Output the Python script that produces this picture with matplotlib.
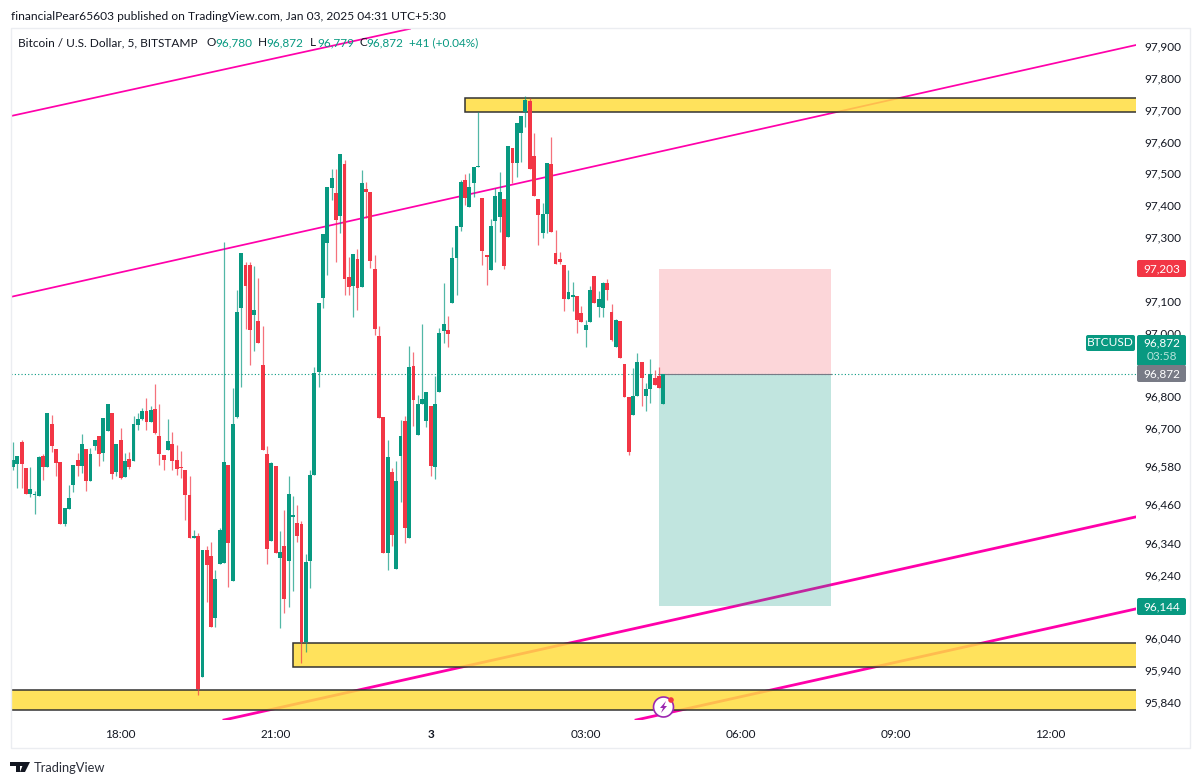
import math

import matplotlib

matplotlib.use("Agg")
import matplotlib.pyplot as plt
from matplotlib.collections import LineCollection
from matplotlib.patches import FancyBboxPatch, Polygon, Rectangle
from matplotlib.transforms import IdentityTransform

WIDTH = 1200
HEIGHT = 784

opens = [
    96580, 96590, 96658, 96577, 96497, 96492, 96491, 96616, 96580, 96717,
    96637, 96596, 96402, 96449, 96523, 96602, 96585, 96637, 96538, 96648,
    96679, 96624, 96693, 96750, 96564, 96664, 96550, 96606, 96598, 96711,
    96731, 96758, 96721, 96763, 96677, 96619, 96635, 96654, 96602, 96581,
    96570, 96494, 96357, 96363, 95920, 96319, 96302, 96105, 96275, 96278,
    96587, 96222, 96738, 97081, 97215, 97215, 97059, 97038, 96900, 96622,
    96349, 96585, 96294, 96334, 96286, 96424, 96405, 96403, 96030, 96284,
    96555, 96878, 97110, 97283, 97458, 97440, 97370, 97532, 97177, 97149,
    97233, 97147, 97453, 97445, 97202, 96992, 96738, 96309, 96565, 96260,
    96614, 96725, 96358, 96898, 96681, 96777, 96726, 96771, 96581, 96816,
    97008, 97011, 97097, 97236, 97334, 97482, 97396, 97474, 97522, 97427,
    97247, 97198, 97354, 97367, 97422, 97302, 97582, 97535, 97629, 97697,
    97730, 97558, 97422, 97317, 97376, 97533, 97252, 97233, 97215, 97109,
    97116, 97118, 97064, 97011, 97037, 97182, 97082, 97081, 97158, 97069,
    96959, 97039, 96903, 96802, 96744, 96804, 96910, 96805, 96826, 96859,
    96865, 96780,
]
highs = [
    96658, 96614, 96664, 96577, 96581, 96504, 96616, 96623, 96750, 96745,
    96637, 96596, 96452, 96525, 96588, 96625, 96685, 96637, 96640, 96665,
    96679, 96733, 96780, 96750, 96652, 96703, 96625, 96627, 96740, 96750,
    96766, 96797, 96773, 96842, 96780, 96619, 96731, 96690, 96650, 96631,
    96570, 96551, 96384, 96373, 96319, 96331, 96344, 96256, 96389, 97288,
    96587, 96829, 97135, 97252, 97226, 97223, 97212, 97173, 97022, 96648,
    96595, 96585, 96379, 96445, 96552, 96491, 96460, 96410, 96306, 96572,
    96896, 97097, 97312, 97459, 97516, 97516, 97564, 97545, 97239, 97249,
    97265, 97514, 97477, 97445, 97247, 97022, 96738, 96665, 96578, 96601,
    96727, 96740, 96962, 96943, 96808, 97029, 96817, 96771, 96868, 97016,
    97160, 97056, 97273, 97336, 97482, 97501, 97503, 97522, 97697, 97427,
    97247, 97359, 97456, 97506, 97422, 97589, 97582, 97662, 97683, 97746,
    97739, 97629, 97422, 97411, 97535, 97616, 97325, 97257, 97215, 97198,
    97161, 97118, 97087, 97043, 97149, 97182, 97134, 97163, 97170, 97093,
    97045, 97039, 96903, 96802, 96891, 96938, 96910, 96846, 96919, 96885,
    96896, 96872,
]
lows = [
    96570, 96515, 96515, 96497, 96486, 96434, 96489, 96539, 96580, 96627,
    96551, 96402, 96394, 96449, 96501, 96553, 96562, 96504, 96538, 96633,
    96583, 96598, 96693, 96543, 96551, 96543, 96550, 96574, 96598, 96696,
    96729, 96696, 96721, 96685, 96588, 96570, 96635, 96570, 96557, 96545,
    96413, 96358, 96357, 95866, 95920, 96156, 96077, 96078, 96275, 96278,
    96204, 96222, 96735, 96831, 97013, 96901, 96946, 96969, 96633, 96276,
    96349, 96309, 96075, 96122, 96140, 96190, 96345, 95965, 95999, 96201,
    96555, 96833, 97079, 97184, 97420, 97226, 97315, 97121, 97121, 97053,
    97074, 97147, 97362, 97207, 96995, 96735, 96309, 96258, 96332, 96260,
    96470, 96342, 96358, 96709, 96681, 96777, 96705, 96552, 96543, 96816,
    96969, 96957, 97097, 97121, 97323, 97404, 97396, 97430, 97522, 97215,
    97152, 97198, 97226, 97318, 97202, 97302, 97472, 97490, 97537, 97650,
    97517, 97432, 97278, 97299, 97315, 97320, 97218, 97218, 97072, 97109,
    97072, 97000, 97037, 96957, 97037, 97097, 97053, 97051, 97105, 96975,
    96959, 96922, 96802, 96618, 96744, 96804, 96772, 96755, 96781, 96838,
    96830, 96779,
]
closes = [
    96604, 96614, 96590, 96497, 96513, 96497, 96612, 96580, 96750, 96646,
    96593, 96402, 96452, 96483, 96588, 96583, 96652, 96538, 96623, 96665,
    96623, 96733, 96780, 96560, 96652, 96546, 96601, 96580, 96717, 96731,
    96758, 96721, 96761, 96687, 96623, 96604, 96662, 96600, 96574, 96579,
    96492, 96358, 96365, 95884, 96319, 96272, 96077, 96229, 96384, 96596,
    96341, 96715, 97067, 97252, 97150, 97011, 97074, 96969, 96633, 96323,
    96593, 96309, 96315, 96166, 96496, 96431, 96363, 96030, 96281, 96554,
    96875, 97097, 97312, 97459, 97488, 97357, 97564, 97170, 97147, 97249,
    97144, 97472, 97445, 97228, 97013, 96735, 96309, 96611, 96366, 96538,
    96679, 96389, 96894, 96790, 96777, 96794, 96817, 96585, 96780, 97001,
    97030, 96998, 97236, 97336, 97477, 97427, 97459, 97522, 97526, 97260,
    97241, 97339, 97432, 97445, 97212, 97589, 97535, 97662, 97683, 97734,
    97517, 97432, 97372, 97374, 97535, 97320, 97218, 97226, 97107, 97129,
    97121, 97043, 97037, 97027, 97135, 97097, 97109, 97160, 97137, 96980,
    97043, 96922, 96802, 96629, 96804, 96910, 96861, 96825, 96873, 96838,
    96830, 96872,
]

price_ticks = [97900, 97800, 97700, 97600, 97500, 97400, 97300, 97100, 97000,
               96800, 96700, 96580, 96460, 96340, 96240, 96040, 95940, 95840]
time_ticks = [25, 61, 97, 133, 169, 205, 241]
time_labels = ["18:00", "21:00", "3", "03:00", "06:00", "09:00", "12:00"]

# trend lines as (bar, price) pairs
thin_lines = [((-0.46, 97683), (92.2, 97957)), ((-0.46, 97115), (260.8, 97906))]
thick_lines = [((49, 95786), (260.8, 96424)), ((144.7, 95786), (260.8, 96135))]

# zones as (first bar, price low, price high)
zones = [(105, 97696, 97740), (65, 95953, 96028), (-0.46, 95818, 95881)]

entry_price = 96872
stop_price = 97203
target_price = 96144
position_start = 150
position_end = 190

GREEN = "#089981"
RED = "#F23645"
GREY = "#787B86"
TEXT = "#131722"
FONT = "Lato"


def fx(px):
    return px / WIDTH


def fy(px):
    return 1 - px / HEIGHT


def px_box(fig, x0, y0, x1, y1, color, zorder=2):
    fig.add_artist(FancyBboxPatch((x0, HEIGHT - y1), x1 - x0, y1 - y0,
                                  boxstyle="round,pad=0,rounding_size=2",
                                  transform=IdentityTransform(), facecolor=color,
                                  edgecolor="none", zorder=zorder))


def px_poly(fig, points, color, edge="none", linewidth=0, zorder=5):
    fig.add_artist(Polygon([(fx(x), fy(y)) for x, y in points], closed=True,
                           transform=fig.transFigure, facecolor=color,
                           edgecolor=edge, linewidth=linewidth, zorder=zorder))


def px_text(fig, x, y, s, color=TEXT, size=8.5, ha="left", **kwargs):
    fig.text(fx(x), fy(y), s, color=color, fontsize=size, ha=ha, va="center",
             family=FONT, zorder=4, **kwargs)


def ring(cx, cy, r, n=40):
    return [(cx + r * math.cos(2 * math.pi * k / n), cy + r * math.sin(2 * math.pi * k / n)) for k in range(n)]


def draw_candles(ax):
    idx = list(range(len(closes)))
    colors = [GREEN if c >= o else RED for o, c in zip(opens, closes)]
    segs = [[(i, lo), (i, hi)] for i, lo, hi in zip(idx, lows, highs)]
    ax.add_collection(LineCollection(segs, colors=colors, linewidths=0.9, alpha=0.7, zorder=5))
    bottoms = [min(o, c) for o, c in zip(opens, closes)]
    heights = [abs(c - o) for o, c in zip(opens, closes)]
    ax.bar(idx, heights, bottom=bottoms, width=0.9, color=colors, linewidth=0, zorder=6)


def draw_drawings(ax):
    for a, b in thin_lines:
        ax.plot([a[0], b[0]], [a[1], b[1]], color="#FF00AA", linewidth=1.25, zorder=2)
    for a, b in thick_lines:
        ax.plot([a[0], b[0]], [a[1], b[1]], color="#FF00AA", linewidth=2.0, zorder=2)

    right = ax.get_xlim()[1]
    for start, low, high in zones:
        ax.add_patch(Rectangle((start, low), right + 5 - start, high - low,
                               facecolor=(1.0, 0.867, 0.247, 0.85), edgecolor="#333333",
                               linewidth=1.1, zorder=3))

    span = position_end - position_start
    ax.add_patch(Rectangle((position_start, entry_price), span, stop_price - entry_price,
                           facecolor=RED, alpha=0.2, edgecolor="none", zorder=3))
    ax.add_patch(Rectangle((position_start, target_price), span, entry_price - target_price,
                           facecolor=GREEN, alpha=0.25, edgecolor="none", zorder=3))
    ax.plot([position_start, position_end], [entry_price, entry_price], color=GREY,
            linewidth=0.8, zorder=4)
    ax.axhline(entry_price, color=GREEN, linestyle=(0, (1, 2)), linewidth=0.8, zorder=1)


def draw_overlay(fig):
    # outer frame of the chart
    fig.add_artist(Rectangle((fx(10.5), fy(748)), fx(1179.5), 720.5 / HEIGHT,
                             transform=fig.transFigure, facecolor="none",
                             edgecolor="#EBEDF1", linewidth=1, zorder=1))

    px_text(fig, 11, 16, "financialPear65603 published on TradingView.com, Jan 03, 2025 04:31 UTC+5:30",
            size=8.66)
    px_text(fig, 18, 43, "Bitcoin / U.S. Dollar, 5, BITSTAMP", size=8.6)
    for x, s, color in [(207, "O", TEXT), (215, "96,780", GREEN), (258, "H", TEXT), (266, "96,872", GREEN),
                        (310, "L", TEXT), (317, "96,779", GREEN), (359, "C", TEXT), (366, "96,872", GREEN),
                        (409, "+41 (+0.04%)", GREEN)]:
        px_text(fig, x, 43, s, color=color)

    # price badges
    px_box(fig, 1137, 260, 1186, 277, RED)
    px_text(fig, 1161.5, 268.5, "97,203", color="white", ha="center")
    px_box(fig, 1137, 598, 1186, 615, GREEN)
    px_text(fig, 1161.5, 606.5, "96,144", color="white", ha="center")
    px_box(fig, 1086, 335, 1135, 351, GREEN)
    px_text(fig, 1110.5, 343, "BTCUSD", color="white", ha="center", size=8.6)
    px_box(fig, 1137, 335, 1186, 366, GREEN)
    px_text(fig, 1161.5, 342.5, "96,872", color="white", ha="center")
    px_text(fig, 1161.5, 356.5, "03:58", color="#B5E3DA", ha="center")
    px_box(fig, 1137, 365, 1186, 382, GREY)
    px_text(fig, 1161.5, 373.5, "96,872", color="white", ha="center")

    # news icon on the time scale
    px_poly(fig, ICON_RING, "white", edge="#9C27B0", linewidth=1.2)
    px_poly(fig, BOLT, "#9C27B0", zorder=6)
    px_poly(fig, ICON_DOT, RED, zorder=6)

    # TradingView logo
    for shape in LOGO:
        px_poly(fig, shape, TEXT, zorder=4)
    px_text(fig, 34, 768, "TradingView", color="#2A2E39", size=9.3)


ICON_RING = ring(663.5, 707, 10)
ICON_DOT = ring(671, 700, 2.8)
BOLT = [(666, 701), (660, 708), (663, 708), (661, 713), (667, 706), (664, 706)]
LOGO = [
    [(10, 762), (20, 762), (20, 772), (15.5, 772), (15.5, 766), (10, 766)],
    [(24, 762), (30, 762), (25, 772), (20, 772)],
    [(19.5, 762), (23.5, 762), (23.5, 766), (19.5, 766)],
]


def main():
    plt.rcParams["ytick.alignment"] = "center"
    fig = plt.figure(figsize=(WIDTH / 100, HEIGHT / 100), dpi=100, facecolor="white")
    ax = fig.add_axes([fx(11), fy(720), fx(1125), 692.5 / HEIGHT])
    ax.set_xlim(-0.46, 260.8)
    ax.set_ylim(95786, 97961)
    for spine in ax.spines.values():
        spine.set_visible(False)

    ax.yaxis.tick_right()
    ax.set_yticks(price_ticks)
    ax.set_yticklabels([f"{p:,}" for p in price_ticks], fontsize=8.5, color=TEXT, family=FONT)
    ax.set_xticks(time_ticks)
    ax.set_xticklabels(time_labels, fontsize=8.5, color=TEXT, family=FONT)
    ax.tick_params(axis="y", length=0, pad=6)
    ax.tick_params(axis="x", length=0, pad=6.5)
    for label in ax.get_xticklabels():
        if label.get_text() == "3":
            label.set_fontweight("bold")

    draw_drawings(ax)
    draw_candles(ax)
    draw_overlay(fig)

    fig.savefig("out.png", dpi=100, facecolor="white")
    plt.close(fig)


if __name__ == "__main__":
    main()
